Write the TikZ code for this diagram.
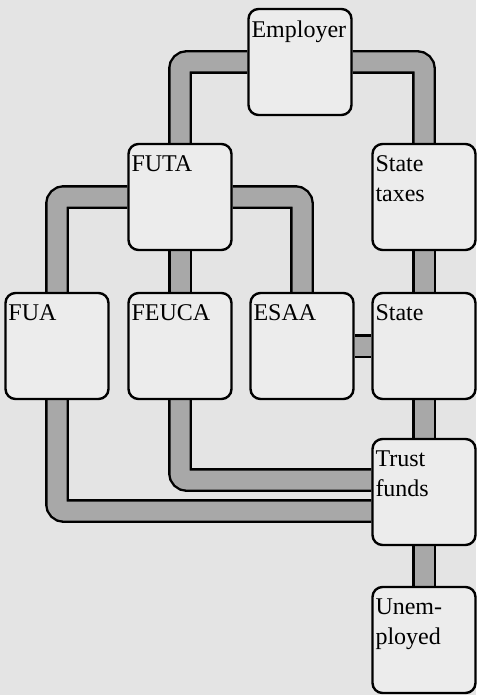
\documentclass[tikz,border=0pt]{standalone}
\usepackage{fontspec}
\setmainfont{Liberation Serif}
\usepackage{xcolor}
\usepackage{tikz}
\usetikzlibrary{positioning,backgrounds}
\definecolor{paper}{HTML}{E4E4E4}
\definecolor{boxfill}{HTML}{ECECEC}
\definecolor{pipegray}{HTML}{A8A8A8}
\tikzset{
  fundbox/.style={
    rectangle, draw=black, fill=boxfill, line width=2.4pt,
    rounded corners=10pt,
    minimum width=103pt, minimum height=106pt,
    inner sep=0pt
  },
  boxtext/.style={
    anchor=north west, align=left, inner xsep=4pt, inner ysep=13pt,
    font=\fontsize{24}{30}\selectfont
  },
  pipe/.style={
    draw=black, line width=2.4pt, double=pipegray, double distance=19pt,
    rounded corners=7pt
  },
}

\begin{document}
\begin{tikzpicture}[x=1pt, y=-1pt]
  \useasboundingbox (0,0) rectangle (476,695);
  % boxes
  \node[fundbox, label={[boxtext]north west:Employer}] (employer) at (300,62) {};
  \node[fundbox, label={[boxtext]north west:FUTA}] (futa) at (180,197) {};
  \node[fundbox, label={[boxtext]north west:{State\\taxes}}] (statetax) at (424,197) {};
  \node[fundbox, label={[boxtext]north west:FUA}] (fua) at (57,346) {};
  \node[fundbox, label={[boxtext]north west:FEUCA}] (feuca) at (180,346) {};
  \node[fundbox, label={[boxtext]north west:ESAA}] (esaa) at (302,346) {};
  \node[fundbox, label={[boxtext]north west:State}] (state) at (424,346) {};
  \node[fundbox, label={[boxtext]north west:{Trust\\funds}}] (trust) at (424,492) {};
  \node[fundbox, label={[boxtext]north west:{Unem-\\ployed}}] (unemp) at (424,640) {};
  % pipes behind the boxes
  \begin{scope}[on background layer]
    \fill[paper] (0,0) rectangle (476,695);
    \draw[pipe] (employer.west) -| (futa.north);
    \draw[pipe] (employer.east) -| (statetax.north);
    \draw[pipe] (futa.west) -| (fua.north);
    \draw[pipe] (futa.east) -| (esaa.north);
    \draw[pipe] (futa.south) -- (feuca.north);
    \draw[pipe] (statetax.south) -- (state.north);
    \draw[pipe] (esaa.east) -- (state.west);
    \draw[pipe] (state.south) -- (trust.north);
    \draw[pipe] (feuca.south) |- ([yshift=12pt]trust.west);
    \draw[pipe] (fua.south) |- ([yshift=-19pt]trust.west);
    \draw[pipe] (trust.south) -- (unemp.north);
  \end{scope}
\end{tikzpicture}
\end{document}
